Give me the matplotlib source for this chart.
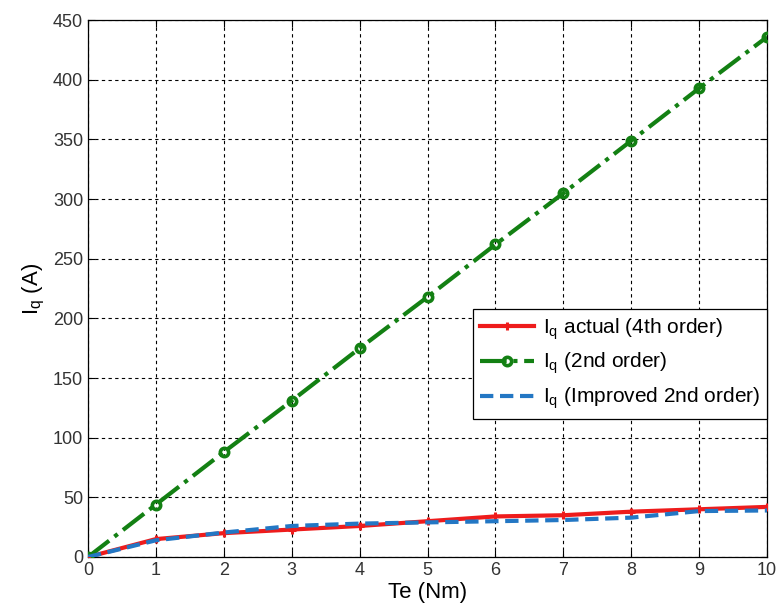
import numpy as np
import matplotlib
matplotlib.use("Agg")
import matplotlib.pyplot as plt

plt.rcParams['font.family'] = ['Liberation Sans', 'DejaVu Sans']

te = [0, 1, 2, 3, 4, 5, 6, 7, 8, 9, 10]
iq_actual = [0, 15, 20, 23, 26, 30, 34, 35, 38, 40, 42]
iq_2nd = [0, 44, 88, 131, 175, 218, 262, 305, 349, 393, 436]
iq_improved = [0, 14, 20.5, 26, 28, 29, 30, 31, 33, 38.5, 39]

fig = plt.figure(figsize=(7.77, 6.10), dpi=100)
ax = fig.add_axes([0.1133, 0.0869, 0.874, 0.880])

ax.plot(te, iq_actual, color='#ee1c1c', lw=3, marker='+', ms=6, mew=2.2,
        label=r'$\mathregular{I_q}$ actual (4th order)', zorder=3)
ax.plot(te, iq_2nd, color='#138013', lw=3, ls='-.', marker='o', ms=6,
        mew=2.6, mfc='none', label=r'$\mathregular{I_q}$ (2nd order)', zorder=3)
ax.plot(te, iq_improved, color='#2377c4', lw=3, ls=(0, (3.2, 1.6)),
        label=r'$\mathregular{I_q}$ (Improved 2nd order)', zorder=4)

ax.set_xlim(0, 10)
ax.set_ylim(0, 450)
ax.set_xticks(range(0, 11))
ax.set_yticks(range(0, 451, 50))
ax.grid(True, color='black', ls=(0, (3, 3)), lw=0.8)
ax.tick_params(direction='in', top=True, right=True, labelsize=13,
               labelcolor='#333333', length=5)
for s in ax.spines.values():
    s.set_linewidth(0.9)

ax.set_xlabel('Te (Nm)', fontsize=16, labelpad=2)
ax.set_ylabel(r'$\mathregular{I_q}$ (A)', fontsize=16, labelpad=4)

leg = ax.legend(loc='center right', bbox_to_anchor=(1.0, 0.36), fontsize=15,
                fancybox=False, framealpha=1, edgecolor='black',
                handlelength=2.6, handletextpad=0.4, borderaxespad=0.0,
                labelspacing=0.45, borderpad=0.35)
leg.get_frame().set_linewidth(0.9)

fig.savefig('out.png', dpi=100)
